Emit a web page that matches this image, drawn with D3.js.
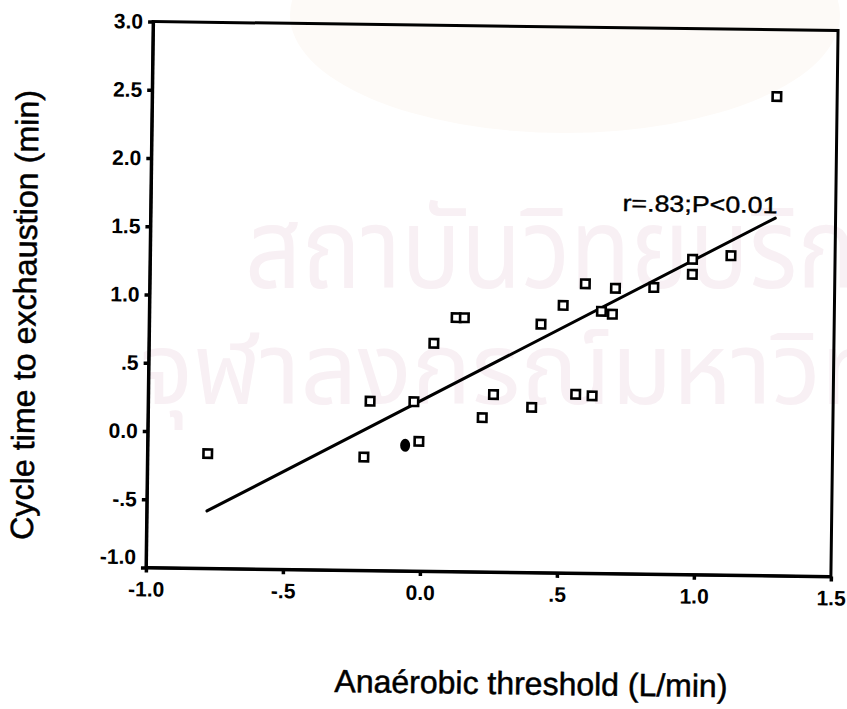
<!DOCTYPE html>
<html>
<head>
<meta charset="utf-8">
<script src="https://cdn.jsdelivr.net/npm/d3@7/dist/d3.min.js"></script>
<style>
  body { margin: 0; background: #ffffff; }
  svg { display: block; }
</style>
</head>
<body>
<svg id="chart" width="847" height="709"></svg>
<script>
// Axis ticks and their printed labels
const xTickValues = [-1.0, -0.5, 0.0, 0.5, 1.0, 1.5];
const xTickLabels = ["-1.0", "-.5", "0.0", ".5", "1.0", "1.5"];
const yTickValues = [3.0, 2.5, 2.0, 1.5, 1.0, 0.5, 0.0, -0.5, -1.0];
const yTickLabels = ["3.0", "2.5", "2.0", "1.5", "1.0", ".5", "0.0", "-.5", "-1.0"];

// Subjects: change in anaerobic threshold (L/min) vs change in cycle time to exhaustion (min)
const anaerobicThreshold = [-0.78, -0.19, -0.21, -0.01, -0.03, 0.04, 0.12, 0.15, 0.22, 0.26, 0.40, 0.43,
                            0.51, 0.56, 0.62, 0.59, 0.65, 0.69, 0.70, 0.84, 0.98, 0.98, 1.12, 1.28];
const cycleTime          = [-0.16, 0.24, -0.17, -0.05, 0.24, 0.67, 0.86, 0.86, 0.13, 0.30, 0.21, 0.82,
                            0.96, 0.31, 0.30, 1.12, 0.92, 0.90, 1.09, 1.10, 1.31, 1.20, 1.34, 2.51];

// Overlapping subjects printed as a single solid mark
const overlapX = [-0.06];
const overlapY = [-0.08];

// Regression line end points
const fitX = [-0.78, 1.28];
const fitY = [-0.58, 1.62];
const fitLabel = "r=.83;P<0.01";

const xTitle = "Anaérobic threshold (L/min)";
const yTitle = "Cycle time to exchaustion (min)";

// Library stamp printed faintly behind the figure
const stampLines = ["สถาบันวิทยบริการ", "จุฬาลงกรณ์มหาวิทยาลัย"];

const FONT = "Arial, 'Liberation Sans', Helvetica, sans-serif";
const THAI = "'Noto Sans Thai', 'Noto Sans', 'DejaVu Sans', sans-serif";

const svg = d3.select("#chart");

const stamp = svg.append("g").attr("class", "stamp");
stamp.append("ellipse")
  .attr("cx", 565).attr("cy", 15).attr("rx", 275).attr("ry", 118)
  .attr("fill", "#fdfaf7");
stamp.append("text")
  .attr("x", 245).attr("y", 288)
  .attr("font-family", THAI).attr("font-size", 112)
  .attr("textLength", 700).attr("lengthAdjust", "spacingAndGlyphs")
  .attr("fill", "#f8f0f4")
  .text(stampLines[0]);
stamp.append("text")
  .attr("x", 140).attr("y", 404)
  .attr("font-family", THAI).attr("font-size", 100)
  .attr("fill", "#f8f0f4")
  .text(stampLines[1]);

// Plot frame (page printed with a slight tilt)
const frame = { left: 149.5, right: 834.5, top: 26, bottom: 572 };
const g = svg.append("g")
  .attr("transform", `rotate(0.75, ${(frame.left + frame.right) / 2}, ${(frame.top + frame.bottom) / 2})`);

const x = d3.scaleLinear().domain([-1.0, 1.5]).range([frame.left, frame.right]);
const y = d3.scaleLinear().domain([-1.0, 3.0]).range([frame.bottom, frame.top]);

// Box
g.append("rect")
  .attr("x", frame.left).attr("y", frame.top)
  .attr("width", frame.right - frame.left).attr("height", frame.bottom - frame.top)
  .attr("fill", "none").attr("stroke", "#000").attr("stroke-width", 3);

// Axes
const xAxis = g.append("g")
  .attr("transform", `translate(0,${frame.bottom})`)
  .call(d3.axisBottom(x).tickValues(xTickValues)
    .tickFormat((d, i) => xTickLabels[i]).tickSize(5).tickSizeOuter(0).tickPadding(9));
const yAxis = g.append("g")
  .attr("transform", `translate(${frame.left},0)`)
  .call(d3.axisLeft(y).tickValues(yTickValues)
    .tickFormat((d, i) => yTickLabels[i]).tickSize(5).tickSizeOuter(0).tickPadding(5));

[xAxis, yAxis].forEach(a => {
  a.select(".domain").attr("stroke", "#000").attr("stroke-width", 3);
  a.selectAll(".tick line").attr("stroke", "#000").attr("stroke-width", 3.5);
  a.selectAll(".tick text")
    .attr("font-family", FONT).attr("font-size", 21).attr("font-weight", "bold")
    .attr("fill", "#000");
});
// lowest y label sits above the corner
yAxis.selectAll(".tick text").filter(d => d === -1.0).attr("dy", "-0.18em");

// Regression line
g.append("line")
  .attr("x1", x(fitX[0])).attr("y1", y(fitY[0]))
  .attr("x2", x(fitX[1])).attr("y2", y(fitY[1]))
  .attr("stroke", "#000").attr("stroke-width", 3).attr("stroke-linecap", "round");

g.append("text")
  .attr("x", x(fitX[1]) + 2).attr("y", y(fitY[1]) - 5)
  .attr("text-anchor", "end")
  .attr("font-family", FONT).attr("font-size", 23)
  .attr("textLength", 155).attr("lengthAdjust", "spacingAndGlyphs")
  .attr("fill", "#000").attr("stroke", "#000").attr("stroke-width", 0.4)
  .text(fitLabel);

// Open square markers
const side = 8.5;
g.append("g").selectAll("rect")
  .data(anaerobicThreshold.map((v, i) => [v, cycleTime[i]]))
  .join("rect")
  .attr("x", d => x(d[0]) - side / 2).attr("y", d => y(d[1]) - side / 2)
  .attr("width", side).attr("height", side)
  .attr("fill", "#fff").attr("stroke", "#000").attr("stroke-width", 2.6);

// Solid mark for overlapping points
g.append("g").selectAll("ellipse")
  .data(overlapX.map((v, i) => [v, overlapY[i]]))
  .join("ellipse")
  .attr("cx", d => x(d[0])).attr("cy", d => y(d[1]))
  .attr("rx", 5).attr("ry", 6.5)
  .attr("fill", "#000");

// Axis titles
g.append("text")
  .attr("x", 536).attr("y", 694)
  .attr("text-anchor", "middle")
  .attr("font-family", FONT).attr("font-size", 32)
  .attr("textLength", 393).attr("lengthAdjust", "spacingAndGlyphs")
  .attr("fill", "#000").attr("stroke", "#000").attr("stroke-width", 0.5)
  .text(xTitle);

g.append("text")
  .attr("transform", `translate(36,321) rotate(-90)`)
  .attr("text-anchor", "middle")
  .attr("font-family", FONT).attr("font-size", 32)
  .attr("textLength", 450).attr("lengthAdjust", "spacingAndGlyphs")
  .attr("fill", "#000").attr("stroke", "#000").attr("stroke-width", 0.5)
  .text(yTitle);
</script>
</body>
</html>
